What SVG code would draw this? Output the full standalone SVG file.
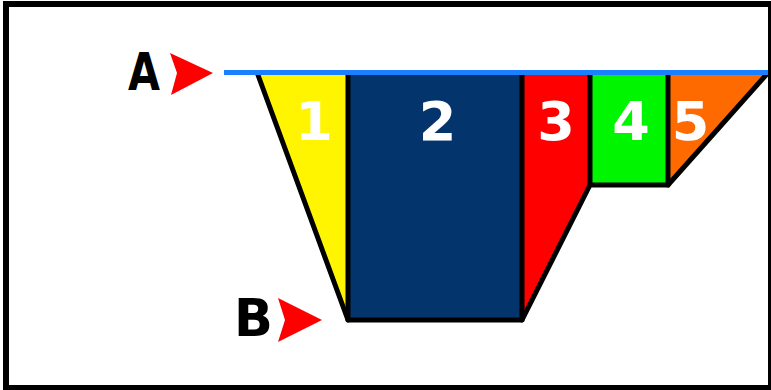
<svg xmlns="http://www.w3.org/2000/svg" width="771" height="390" viewBox="0 0 771 390">
<style>
.num{font-family:"DejaVu Sans","Liberation Sans",sans-serif;font-weight:bold;font-size:54px;fill:#fff;text-anchor:middle}
.lbl{font-family:"DejaVu Sans","Liberation Sans",sans-serif;font-weight:bold;font-size:51px;fill:#000}
.edge{fill:none;stroke:#000;stroke-width:5;stroke-linejoin:round;stroke-linecap:round}
.arrow{fill:#ff0000}
</style>
<rect x="0" y="0" width="771" height="390" fill="#fff"/>
<rect x="6" y="4" width="765" height="384" fill="none" stroke="#000" stroke-width="6"/>
<g id="zone1">
<polygon points="258,75 348,75 348,320" fill="#fff500"/>
<text class="num" x="314" y="140">1</text>
</g>
<g id="zone2">
<rect x="348" y="75" width="174" height="245" fill="#03346b"/>
<text class="num" x="437.5" y="140">2</text>
</g>
<g id="zone3">
<polygon points="522,75 590,75 590,185 522,320" fill="#ff0000"/>
<text class="num" x="556" y="140">3</text>
</g>
<g id="zone4">
<rect x="590" y="75" width="78" height="110" fill="#00f500"/>
<text class="num" x="631" y="140">4</text>
</g>
<g id="zone5">
<polygon points="668,75 766,75 668,185" fill="#ff6a00"/>
<text class="num" x="690.5" y="140">5</text>
</g>
<g id="outline">
<path class="edge" d="M258,75 L348,320 L522,320 L590,185 L668,185 L766,75"/>
<path class="edge" d="M348,75 V320 M522,75 V320 M590,75 V185 M668,75 V185"/>
</g>
<g id="level-line">
<line x1="224" y1="72.5" x2="768" y2="72.5" stroke="#1a80ff" stroke-width="5"/>
</g>
<g id="markerA">
<text class="lbl" x="128" y="90" textLength="32" lengthAdjust="spacingAndGlyphs">A</text>
<polygon class="arrow" points="170,53 213,73 171,95 177,73"/>
</g>
<g id="markerB">
<text class="lbl" x="234" y="336" font-size="50">B</text>
<polygon class="arrow" points="278,298 322,320 278,342 285,320"/>
</g>
</svg>
